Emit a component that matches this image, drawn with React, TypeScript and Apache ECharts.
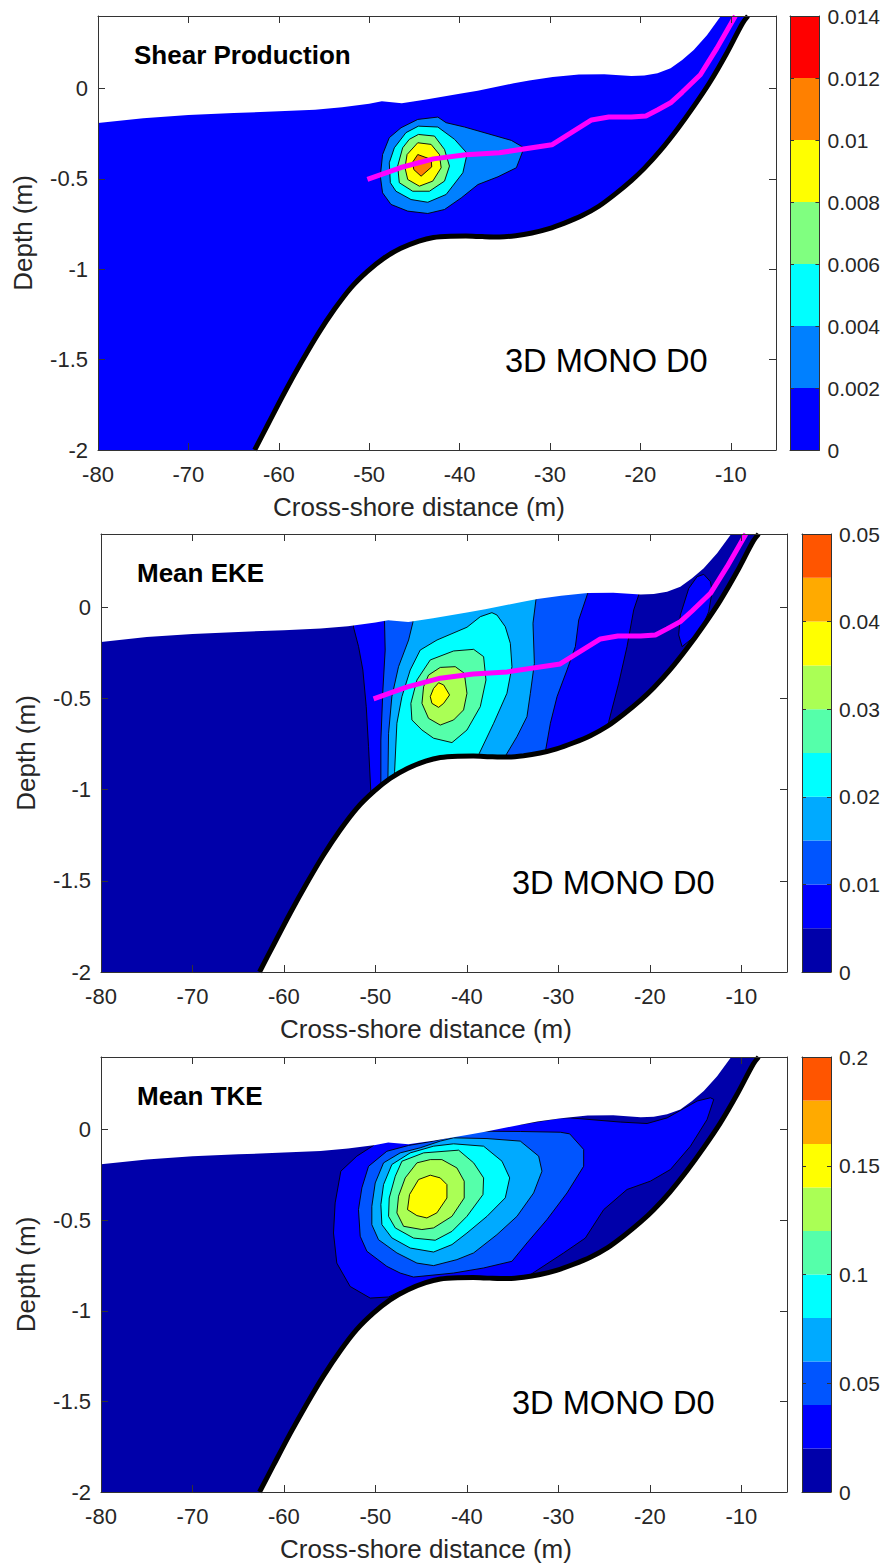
import { useEffect, useRef } from "react";
import * as echarts from "echarts";

type Pt = number[];

// Water surface and bed profile (x in m, depth in m)
const surface: Pt[] = [
  [-80, -0.192], [-75, -0.165], [-70, -0.148], [-65, -0.137], [-60, -0.127], [-56, -0.118], [-53, -0.105],
  [-50, -0.085], [-48.6, -0.072], [-46.4, -0.082], [-43.7, -0.062], [-40, -0.03], [-38, -0.013], [-34, 0.028],
  [-32.3, 0.044], [-29.7, 0.062], [-26.8, 0.077], [-24, 0.078], [-21, 0.068], [-19.57, 0.071], [-18.11, 0.084],
  [-16.66, 0.111], [-15.38, 0.157], [-14.1, 0.212], [-12.64, 0.294], [-11.1, 0.4],
];
const bed: Pt[] = [
  [-62.67, -2], [-61.14, -1.852], [-59.32, -1.678], [-57.5, -1.514], [-55.67, -1.359], [-53.85, -1.222],
  [-52.03, -1.103], [-50.2, -1.012], [-48.4, -0.94], [-46.5, -0.885], [-44.5, -0.845], [-42.9, -0.825],
  [-41, -0.818], [-39.3, -0.817], [-37.5, -0.82], [-35.6, -0.822], [-33.8, -0.815], [-32, -0.8], [-30.2, -0.777],
  [-28.4, -0.745], [-26.5, -0.705], [-24.6, -0.652], [-22.8, -0.585], [-21, -0.51], [-19.6, -0.444],
  [-17.8, -0.345], [-15.9, -0.225], [-14.1, -0.1], [-12.3, 0.035], [-10.5, 0.19], [-8.7, 0.36], [-8.1, 0.4],
];
const meanLine: Pt[] = [
  [-50.2, -0.504], [-46.5, -0.438], [-42.9, -0.39], [-39.3, -0.367], [-35.6, -0.356], [-29.8, -0.312],
  [-25.4, -0.175], [-23.5, -0.159], [-21, -0.159], [-19.39, -0.153], [-18.11, -0.12], [-16.66, -0.08],
  [-15.38, -0.022], [-13.37, 0.075], [-11.55, 0.221], [-9.5, 0.4],
];

// Shear production contours, outer to inner
const shear1: Pt[] = [
  [-42.41, -0.159], [-41.49, -0.19], [-39.45, -0.214], [-36.86, -0.251], [-34.27, -0.288], [-32.87, -0.329],
  [-33.72, -0.439], [-35.75, -0.489], [-37.97, -0.532], [-39.82, -0.606], [-41.67, -0.67], [-43.52, -0.692],
  [-45.74, -0.679], [-47.59, -0.642], [-48.52, -0.578], [-48.77, -0.486], [-48.52, -0.366], [-47.78, -0.273],
  [-46.48, -0.218], [-44.63, -0.172],
];
const shear2: Pt[] = [
  [-44.56, -0.209], [-42.41, -0.214], [-40.56, -0.282], [-39.16, -0.36], [-39.64, -0.467], [-41.49, -0.587],
  [-43.52, -0.63], [-45.37, -0.615], [-47.04, -0.569], [-47.66, -0.522], [-47.78, -0.412], [-47.22, -0.329],
  [-45.93, -0.245],
];
const shear3: Pt[] = [
  [-44.56, -0.255], [-42.78, -0.264], [-41.67, -0.338], [-41.12, -0.43], [-41.67, -0.513], [-43.34, -0.569],
  [-45.19, -0.569], [-46.67, -0.522], [-46.85, -0.43], [-46.3, -0.329], [-45.56, -0.282],
];
const shear4: Pt[] = [
  [-44.63, -0.301], [-43.15, -0.31], [-42.23, -0.366], [-42.04, -0.439], [-42.97, -0.513], [-44.45, -0.541],
  [-45.74, -0.504], [-46.04, -0.439], [-45.81, -0.366],
];
const shear5: Pt[] = [
  [-44.63, -0.366], [-43.15, -0.393], [-43.08, -0.434], [-44.26, -0.486], [-45.07, -0.449], [-45.19, -0.408],
];

// Mean EKE contours, they run on past the surface and the bed and get masked there
const eke1: Pt[] = [
  [-52.6, 0.05], [-52.39, -0.111], [-51.84, -0.217], [-51.37, -0.345], [-51, -0.546], [-50.75, -0.765],
  [-50.49, -1.02], [-50.3, -1.3], [-24, -0.9], [-24.49, -0.628], [-23.4, -0.418], [-22.49, -0.217],
  [-21.76, -0.016], [-21.21, 0.066], [-20.9, 0.2],
];
const eke2: Pt[] = [
  [-49, 0.1], [-49, -0.08], [-48.93, -0.236], [-49.18, -0.455], [-49.4, -0.729], [-49.4, -0.957], [-49.3, -1.3],
  [-31.5, -1], [-31.42, -0.793], [-30.87, -0.637], [-30.14, -0.491], [-29.05, -0.345], [-28.14, -0.217],
  [-27.77, -0.071], [-26.79, 0.075], [-26.4, 0.2],
];
const eke3: Pt[] = [
  [-45.8, 0.1], [-45.9, -0.084], [-46.37, -0.181], [-47.47, -0.327], [-48.2, -0.491], [-48.56, -0.692],
  [-48.63, -0.939], [-48.6, -1.3], [-36.5, -1], [-35.72, -0.811], [-34.52, -0.71], [-33.43, -0.601],
  [-33.06, -0.473], [-32.62, -0.309], [-32.77, -0.089], [-32.44, 0.042], [-32.4, 0.2],
];
const eke4: Pt[] = [
  [-47.9, -1.3], [-47.9, -0.902], [-47.65, -0.637], [-47.1, -0.491], [-46.19, -0.345], [-45.1, -0.236],
  [-43.27, -0.181], [-39.99, -0.111], [-38.53, -0.053], [-37.26, -0.031], [-36.71, -0.044], [-35.8, -0.108],
  [-35.25, -0.199], [-35.07, -0.327], [-35.62, -0.473], [-37.07, -0.637], [-38.64, -0.802], [-39.5, -1],
];
const eke5: Pt[] = [
  [-41.45, -0.241], [-39.26, -0.232], [-38.17, -0.272], [-37.91, -0.4], [-38.53, -0.546], [-39.99, -0.674],
  [-41.63, -0.743], [-43.64, -0.719], [-44.91, -0.674], [-46.01, -0.619], [-46.12, -0.528], [-45.46, -0.4],
  [-44, -0.29],
];
const eke6: Pt[] = [
  [-42.91, -0.331], [-41.27, -0.327], [-40.28, -0.363], [-39.99, -0.473], [-40.36, -0.564], [-41.45, -0.619],
  [-42.91, -0.647], [-44.19, -0.61], [-44.91, -0.528], [-44.73, -0.437], [-44.19, -0.373],
];
const eke7: Pt[] = [
  [-43.09, -0.415], [-42.54, -0.427], [-41.89, -0.482], [-42.54, -0.528], [-43.09, -0.55], [-43.82, -0.528],
  [-44, -0.491], [-43.64, -0.446],
];
const ekeBlob: Pt[] = [
  [-14.1, 0.179], [-13.37, 0.139], [-13.19, 0.084], [-13.56, -0.026], [-14.47, -0.135], [-16.47, -0.217],
  [-16.84, -0.153], [-16.66, -0.044], [-15.74, 0.102], [-14.83, 0.166],
];

// Mean TKE contours
const tke1: Pt[] = [
  [-50.2, 0.1], [-50.2, -0.088], [-52.03, -0.147], [-53.78, -0.23], [-54.4, -0.405], [-54.58, -0.571],
  [-54.22, -0.737], [-52.76, -0.866], [-50.57, -0.93], [-48.56, -0.924], [-47.29, -0.893], [-45, -1.2], [-33, -1.2],
  [-33.06, -0.801], [-29.42, -0.681], [-27.05, -0.599], [-25.04, -0.442], [-22.49, -0.331], [-19.94, -0.285],
  [-17.75, -0.221], [-15.56, -0.092], [-13.74, 0.055], [-13.01, 0.166], [-13.37, 0.175], [-14.83, 0.157],
  [-18.11, 0.064], [-20.3, 0.033], [-23.22, 0.041], [-28.69, 0.064], [-29.78, 0.064], [-34.16, 0.028], [-34.2, 0.1],
];
const tke2: Pt[] = [
  [-43.64, -0.064], [-39.26, -0.009], [-34.16, -0.011], [-29.78, -0.015], [-28.76, -0.024], [-27.23, -0.11],
  [-27.23, -0.203], [-29.05, -0.35], [-31.24, -0.497], [-33.43, -0.626], [-35.07, -0.727], [-38.17, -0.764],
  [-41.45, -0.792], [-45.83, -0.814], [-47.29, -0.792], [-48.75, -0.755], [-50.93, -0.672], [-51.66, -0.589],
  [-51.85, -0.442], [-51.48, -0.322], [-50.75, -0.203], [-48.75, -0.12], [-46.37, -0.088],
];
const tke3: Pt[] = [
  [-41.45, -0.046], [-37.8, -0.05], [-34.16, -0.064], [-32.15, -0.147], [-31.79, -0.23], [-32.7, -0.35],
  [-34.52, -0.479], [-36.71, -0.58], [-39.26, -0.681], [-41.09, -0.718], [-43.64, -0.751], [-45.46, -0.737],
  [-47.65, -0.681], [-49.66, -0.608], [-50.39, -0.525], [-50.39, -0.424], [-50.02, -0.295], [-49.11, -0.184],
  [-47.29, -0.129], [-45.1, -0.101], [-42.91, -0.064],
];
const tke4: Pt[] = [
  [-41.45, -0.079], [-38.17, -0.092], [-36.16, -0.175], [-35.32, -0.267], [-35.8, -0.377], [-37.8, -0.479],
  [-39.99, -0.571], [-41.63, -0.635], [-43.64, -0.676], [-46.19, -0.654], [-48.2, -0.598], [-49.29, -0.525],
  [-49.4, -0.414], [-49.11, -0.304], [-48.2, -0.193], [-46.19, -0.129], [-43.64, -0.092],
];
const tke5: Pt[] = [
  [-40.9, -0.114], [-39.26, -0.184], [-38.17, -0.267], [-38.24, -0.359], [-39.99, -0.479], [-41.63, -0.562],
  [-43.46, -0.611], [-45.83, -0.599], [-47.83, -0.543], [-48.56, -0.479], [-48.49, -0.378], [-47.83, -0.258],
  [-47.1, -0.175], [-44.73, -0.129],
];
const tke6: Pt[] = [
  [-42.73, -0.166], [-41.09, -0.212], [-40.29, -0.285], [-40.29, -0.378], [-41.63, -0.479], [-43.64, -0.543],
  [-44.92, -0.552], [-46.92, -0.534], [-47.65, -0.46], [-47.47, -0.368], [-46.74, -0.267], [-45.46, -0.184],
  [-44, -0.166],
];
const tke7: Pt[] = [
  [-44, -0.252], [-42.91, -0.267], [-42.18, -0.304], [-42.18, -0.378], [-43.28, -0.46], [-44.37, -0.488],
  [-45.46, -0.475], [-46.49, -0.442], [-46.27, -0.359], [-45.28, -0.276],
];

const jet7 = ["#0000ff", "#0080ff", "#00ffff", "#80ff80", "#ffff00", "#ff8000", "#ff0000"];
const jet10 = ["#0000aa", "#0000ff", "#0055ff", "#00aaff", "#00ffff", "#55ffaa", "#aaff55", "#ffff00", "#ffaa00", "#ff5500"];

const X_MIN = -80;
const X_MAX = -5;
const Z_MIN = -2;
const Z_MAX = 0.4;
const FONT = "'Liberation Sans', Arial, sans-serif";
const INK = "#262626";

const panels = [
  {
    title: "Shear Production",
    grid: { left: 98, top: 16, width: 678, height: 434 },
    bar: { left: 790, top: 16, width: 30, height: 434 },
    colors: jet7,
    barMax: 0.014,
    barTick: 0.002,
    contours: [shear1, shear2, shear3, shear4, shear5],
    levels: [1, 2, 3, 4, 5],
    showMean: true,
    titleAt: [134, 55],
    tagAt: [505, 360],
  },
  {
    title: "Mean EKE",
    grid: { left: 101, top: 534, width: 686, height: 438 },
    bar: { left: 802, top: 534, width: 29, height: 438 },
    colors: jet10,
    barMax: 0.05,
    barTick: 0.01,
    contours: [eke1, ekeBlob, eke2, eke3, eke4, eke5, eke6, eke7],
    levels: [1, 1, 2, 3, 4, 5, 6, 7],
    showMean: true,
    titleAt: [137, 573],
    tagAt: [512, 882],
  },
  {
    title: "Mean TKE",
    grid: { left: 101, top: 1057, width: 686, height: 435 },
    bar: { left: 802, top: 1057, width: 29, height: 435 },
    colors: jet10,
    barMax: 0.2,
    barTick: 0.05,
    contours: [tke1, tke2, tke3, tke4, tke5, tke6, tke7],
    levels: [1, 2, 3, 4, 5, 6, 7],
    showMean: false,
    titleAt: [137, 1096],
    tagAt: [512, 1402],
  },
];

const edge = { show: true, onZero: false, lineStyle: { color: "#333", width: 1 } };

const plotAxes = (gridIndex: number) => {
  const ticks = { show: true, inside: true, length: 7, lineStyle: { color: "#333", width: 1 } };
  const label = { color: INK, fontSize: 22, fontFamily: FONT, showMaxLabel: false, hideOverlap: false };
  const x = { type: "value", gridIndex, min: X_MIN, max: X_MAX, interval: 10, splitLine: { show: false }, axisLine: edge, axisTick: ticks, z: 10 };
  const y = { type: "value", gridIndex, min: Z_MIN, max: Z_MAX, interval: 0.5, splitLine: { show: false }, axisLine: edge, axisTick: ticks, z: 10 };
  const nameStyle = { color: INK, fontSize: 26, fontFamily: FONT };
  return {
    xAxis: [
      {
        ...x,
        position: "bottom",
        axisLabel: { ...label, margin: 13 },
        name: "Cross-shore distance (m)",
        nameLocation: "middle",
        nameGap: 44,
        nameTextStyle: { ...nameStyle, padding: [0, 36, 0, 0] },
      },
      { ...x, position: "top", axisLabel: { show: false } },
    ],
    yAxis: [
      {
        ...y,
        position: "left",
        axisLabel: { ...label, margin: 10 },
        name: "Depth (m)",
        nameLocation: "middle",
        nameGap: 62,
        nameTextStyle: nameStyle,
      },
      { ...y, position: "right", axisLabel: { show: false } },
    ],
  };
};

const barAxes = (gridIndex: number, max: number, interval: number) => {
  const ticks = { show: true, inside: true, length: 4, lineStyle: { color: "#333", width: 1 } };
  const x = { type: "value", gridIndex, min: 0, max: 1, splitLine: { show: false }, axisLine: edge, axisTick: { show: false }, axisLabel: { show: false }, z: 10 };
  const y = { type: "value", gridIndex, min: 0, max, interval, splitLine: { show: false }, axisLine: edge, axisTick: ticks, z: 10 };
  return {
    xAxis: [
      { ...x, position: "bottom" },
      { ...x, position: "top" },
    ],
    yAxis: [
      { ...y, position: "left", axisLabel: { show: false } },
      { ...y, position: "right", axisLabel: { show: true, color: INK, fontSize: 21, fontFamily: FONT, margin: 8 } },
    ],
  };
};

const polygonSeries = (gridIndex: number, shapes: Pt[][], fills: string[], outline: boolean, z: number) => ({
  type: "custom",
  coordinateSystem: "cartesian2d",
  xAxisIndex: gridIndex * 2,
  yAxisIndex: gridIndex * 2,
  clip: true,
  silent: true,
  z,
  data: shapes.map((_, i) => [i]),
  renderItem: (params: any, api: any) => ({
    type: "polygon",
    shape: { points: shapes[params.dataIndex].map((p) => api.coord(p)) },
    style: { fill: fills[params.dataIndex], stroke: outline ? "#000" : null, lineWidth: outline ? 0.9 : 0 },
  }),
});

const lineSeries = (gridIndex: number, points: Pt[], color: string, width: number, z: number, smooth: number | boolean) => ({
  type: "line",
  xAxisIndex: gridIndex * 2,
  yAxisIndex: gridIndex * 2,
  data: points,
  showSymbol: false,
  silent: true,
  smooth,
  z,
  lineStyle: { color, width },
});

const barSeries = (gridIndex: number, colors: string[], max: number) => ({
  type: "custom",
  coordinateSystem: "cartesian2d",
  xAxisIndex: gridIndex * 2,
  yAxisIndex: gridIndex * 2,
  silent: true,
  z: 2,
  data: colors.map((_, i) => [i]),
  renderItem: (params: any, api: any) => {
    const step = max / colors.length;
    const a = api.coord([0, params.dataIndex * step]);
    const b = api.coord([1, (params.dataIndex + 1) * step]);
    return {
      type: "rect",
      shape: { x: a[0], y: b[1], width: b[0] - a[0], height: a[1] - b[1] },
      style: { fill: colors[params.dataIndex] },
    };
  },
});

const buildOption = () => {
  const grids: any[] = [];
  const xAxis: any[] = [];
  const yAxis: any[] = [];
  const series: any[] = [];
  const graphic: any[] = [];
  const box: Pt[] = [[X_MIN, Z_MIN], [X_MAX, Z_MIN], [X_MAX, Z_MAX], [X_MIN, Z_MAX]];
  const skyMask: Pt[] = [...surface, [X_MIN, Z_MAX]];
  const bedMask: Pt[] = [...bed, [X_MAX, Z_MAX], [X_MAX, Z_MIN]];

  panels.forEach((p) => {
    const g = grids.length;
    grids.push(p.grid);
    const axes = plotAxes(g);
    xAxis.push(...axes.xAxis);
    yAxis.push(...axes.yAxis);
    series.push(polygonSeries(g, [box], [p.colors[0]], false, 2));
    series.push(polygonSeries(g, p.contours, p.levels.map((l) => p.colors[l]), true, 3));
    series.push(polygonSeries(g, [skyMask, bedMask], ["#fff", "#fff"], false, 4));
    series.push(lineSeries(g, bed, "#000", 5, 5, 0.3));
    if (p.showMean) series.push(lineSeries(g, meanLine, "#ff00ff", 5, 6, false));

    const b = grids.length;
    grids.push(p.bar);
    const cb = barAxes(b, p.barMax, p.barTick);
    xAxis.push(...cb.xAxis);
    yAxis.push(...cb.yAxis);
    series.push(barSeries(b, p.colors, p.barMax));

    graphic.push({
      type: "text",
      x: p.titleAt[0],
      y: p.titleAt[1],
      z: 20,
      style: { text: p.title, fontSize: 26, fontWeight: "bold", fontFamily: FONT, fill: "#000", verticalAlign: "middle" },
    });
    graphic.push({
      type: "text",
      x: p.tagAt[0],
      y: p.tagAt[1],
      z: 20,
      style: { text: "3D MONO D0", fontSize: 32.6, fontFamily: FONT, fill: "#000", verticalAlign: "middle" },
    });
  });

  return { animation: false, backgroundColor: "#fff", grid: grids, xAxis, yAxis, series, graphic };
};

export default function App() {
  const ref = useRef<HTMLDivElement | null>(null);

  useEffect(() => {
    if (!ref.current) return;
    const chart = echarts.init(ref.current, undefined, { renderer: "svg" });
    chart.setOption(buildOption() as any);
    return () => chart.dispose();
  }, []);

  return <div ref={ref} style={{ position: "absolute", left: 0, top: 0, width: 883, height: 1565 }} />;
}
